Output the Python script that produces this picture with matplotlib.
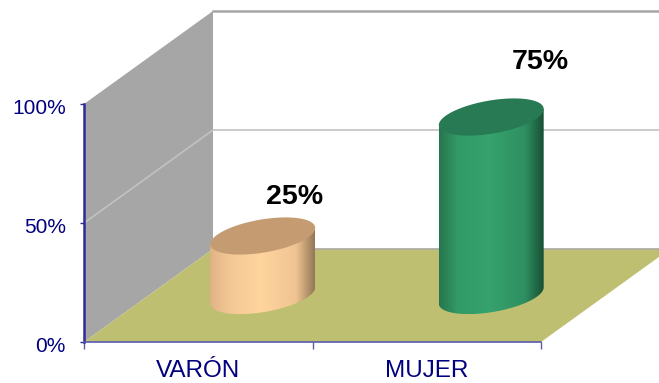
import numpy as np
import matplotlib
matplotlib.use('Agg')
import matplotlib.pyplot as plt
from matplotlib.colors import LinearSegmentedColormap
from matplotlib.patches import Polygon
from matplotlib.transforms import ScaledTranslation

plt.rcParams['font.family'] = ['Liberation Sans', 'DejaVu Sans']

categories = ['VARÓN', 'MUJER']
values = [25, 75]
value_labels = ['25%', '75%']
y_ticks = [0, 50, 100]
y_tick_labels = ['0%', '50%', '100%']

side_stops = [0, 0.18, 0.48, 0.82, 1]
side_colors = [['#e0b285', '#f3c795', '#ffd59e', '#f0c492', '#937757'],
               ['#27754f', '#329a67', '#36a26d', '#2f8f61', '#184f34']]
top_colors = ['#c59c72', '#277a53']
label_offsets = [(23, 28), (35, 39.5)]  # points, from top of each cylinder

navy = '#000080'
axis_blue = '#2b2b9c'
W, H = 659, 383

# depth of the box, in x units and y units
depth_x = 129 / 457 * 2
depth_y = 93 / 238 * 100
radius = 0.2065   # half width of the ellipse along x
shear = 0.1       # x shift of the ellipse along depth
half_depth = 0.2  # half depth of the ellipse


def project(x, y, d):
    return x + d * depth_x, y + d * depth_y


fig = plt.figure(figsize=(W / 100, H / 100), dpi=100)
ax = fig.add_axes([84 / W, (H - 342) / H, 457 / W, 238 / H])
ax.patch.set_visible(False)

# walls and floor
wall = [project(0, 0, 0), project(0, 0, 1), project(0, 100, 1), project(0, 100, 0)]
floor = [project(0, 0, 0), project(2, 0, 0), project(2, 0, 1), project(0, 0, 1)]
ax.add_patch(Polygon(wall, fc='#a6a6a6', ec='none', zorder=1, clip_on=False))
ax.add_patch(Polygon(floor, fc='#bfbf72', ec='none', zorder=1, clip_on=False))

# grid lines running along wall and back
for v in y_ticks[1:-1]:
    pts = [project(0, v, 0), project(0, v, 1), project(2, v, 1)]
    ax.plot(*zip(*pts), color='#c2c2c2', lw=1.2, zorder=1.2, clip_on=False)
pts = [project(0, 0, 1), project(2, 0, 1)]
ax.plot(*zip(*pts), color='#a9a9a0', lw=1.2, zorder=1.2, clip_on=False)
pts = [project(0, 100, 1), project(2, 100, 1)]
ax.plot(*zip(*pts), color='#a6a6a6', lw=1.8, zorder=1.2, clip_on=False)

# cylinders
for i, (v, lab) in enumerate(zip(values, value_labels)):
    cx = i + 0.5 + 0.5 * depth_x
    cy = 0.5 * depth_y
    t0 = np.arctan2(shear, radius)
    t = np.linspace(0, 2 * np.pi, 200)
    ex = cx + radius * np.cos(t) + shear * np.sin(t)
    ey = cy + half_depth * depth_y * np.sin(t)

    # silhouette of the side: lower arc of the base, straight up to the top
    ta = np.linspace(t0 + np.pi, t0 + 2 * np.pi, 100)
    arc_x = cx + radius * np.cos(ta) + shear * np.sin(ta)
    arc_y = cy + half_depth * depth_y * np.sin(ta)
    side_x = np.r_[arc_x, arc_x[-1], arc_x[0]]
    side_y = np.r_[arc_y, arc_y[-1] + v, arc_y[0] + v]
    side = Polygon(np.c_[side_x, side_y], fc='none', ec='none', zorder=3, clip_on=False)
    ax.add_patch(side)

    cmap = LinearSegmentedColormap.from_list('side', list(zip(side_stops, side_colors[i])))
    grad = np.linspace(0, 1, 256).reshape(1, -1)
    im = ax.imshow(grad, cmap=cmap, aspect='auto', zorder=3,
                   extent=[ex.min(), ex.max(), ey.min(), ey.max() + v])
    im.set_clip_box(fig.bbox)
    im.set_clip_path(side)

    ax.fill(ex, ey + v, color=top_colors[i], lw=0, zorder=4, clip_on=False)
    ax.annotate(lab, (cx, cy + v), xytext=label_offsets[i],
                textcoords='offset points', ha='center', va='center',
                fontsize=20.5, fontweight='bold', color='black', zorder=5,
                annotation_clip=False)

ax.set_xlim(0, 2)
ax.set_ylim(0, 100)

ax.set_yticks(y_ticks)
ax.set_yticklabels(y_tick_labels, fontsize=15, color=navy)
ax.set_xticks([0, 1, 2])
ax.set_xticklabels([])
ax.set_xticks([0.5, 1.5], minor=True)
ax.set_xticklabels(categories, minor=True, fontsize=17.5, color=navy)
ax.tick_params(axis='x', which='major', length=5, width=1, color='#5a5ab0')
ax.tick_params(axis='x', which='minor', length=0, pad=13)
ax.tick_params(axis='y', length=3, width=1, color=axis_blue, pad=10)

# y labels sit a little under their ticks
down = ScaledTranslation(0, -1.5 / 72, fig.dpi_scale_trans)
for t_lab in ax.get_yticklabels():
    t_lab.set_transform(t_lab.get_transform() + down)

ax.spines['top'].set_visible(False)
ax.spines['right'].set_visible(False)
ax.spines['left'].set_color(axis_blue)
ax.spines['left'].set_linewidth(1.8)
ax.spines['bottom'].set_color('#5a5ab0')
ax.spines['bottom'].set_linewidth(1.2)

fig.savefig('out.png', dpi=100)
